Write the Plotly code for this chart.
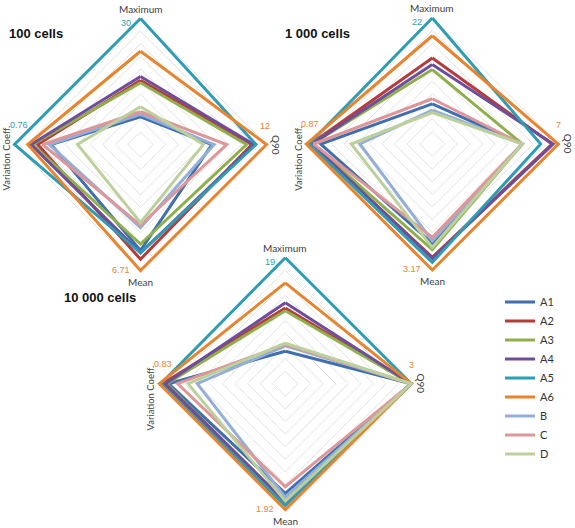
import plotly.graph_objects as go

# ---------------- data ----------------
axes_names = ["Maximum", "Q90", "Mean", "Variation Coeff."]
series = ["A1", "A2", "A3", "A4", "A5", "A6", "B", "C", "D"]
colors = ["#3F6FAE", "#B63C3C", "#8DB04A", "#6E4E9B", "#2E9DB3",
          "#E8832E", "#93AED8", "#DE9699", "#BBD09A"]

titles = ["100 cells", "1 000 cells", "10 000 cells"]

# values per series: [Maximum, Q90, Mean, Variation Coeff.]
cells_100 = {
    "A1": [6.6, 6.8, 5.64, 0.54],
    "A2": [15.3, 10.6, 6.11, 0.62],
    "A3": [14.7, 10.1, 5.30, 0.65],
    "A4": [16.2, 10.8, 5.77, 0.66],
    "A5": [30, 11.0, 5.77, 0.76],
    "A6": [22.2, 12, 6.71, 0.68],
    "B":  [7.2, 7.0, 4.43, 0.55],
    "C":  [7.8, 8.2, 4.29, 0.59],
    "D":  [9.0, 6.0, 4.16, 0.38],
}
cells_1000 = {
    "A1": [7.0, 5.0, 2.50, 0.77],
    "A2": [15.0, 6.65, 2.85, 0.84],
    "A3": [13.0, 5.0, 2.66, 0.83],
    "A4": [13.9, 6.72, 2.88, 0.83],
    "A5": [22, 6.02, 2.98, 0.85],
    "A6": [18.9, 7, 3.17, 0.87],
    "B":  [5.9, 5.0, 2.44, 0.50],
    "C":  [7.9, 5.0, 2.35, 0.82],
    "D":  [5.5, 5.0, 2.60, 0.56],
}
cells_10000 = {
    "A1": [4.9, 3, 1.67, 0.77],
    "A2": [11.4, 3, 1.82, 0.81],
    "A3": [11.0, 3, 1.82, 0.78],
    "A4": [12.2, 3, 1.80, 0.79],
    "A5": [19, 3, 1.86, 0.82],
    "A6": [15.2, 3, 1.92, 0.83],
    "B":  [5.7, 3, 1.73, 0.58],
    "C":  [5.9, 3, 1.57, 0.71],
    "D":  [6.1, 3, 1.79, 0.64],
}
datasets = [cells_100, cells_1000, cells_10000]
max_labels = [["30", "12", "6.71", "0.76"],
              ["22", "7", "3.17", "0.87"],
              ["19", "3", "1.92", "0.83"]]

# ---------------- layout geometry ----------------
W, H = 575, 528
centers = [(140.5, 144.5), (432.3, 144.0), (285.3, 383.7)]  # px
R = 126
PAD = 1.04  # radial range slightly beyond 1 so edge lines are not clipped
title_pos = [(7, 33), (283, 33), (62, 297)]

fig = go.Figure()
annotations = []

for k, (data, (cx, cy)) in enumerate(zip(datasets, centers)):
    maxes = [max(data[s][i] for s in series) for i in range(4)]
    sub = "polar" if k == 0 else f"polar{k+1}"
    for s, c in zip(series, colors):
        vals = [data[s][i] / maxes[i] for i in range(4)]
        fig.add_trace(go.Scatterpolar(
            r=vals + [vals[0]], theta=axes_names + [axes_names[0]],
            mode="lines", line=dict(color=c, width=3),
            name=s, legendgroup=s, showlegend=(k == 0),
            subplot=sub))
    Ro = R * PAD
    dom_x = [(cx - Ro) / W, (cx + Ro) / W]
    dom_y = [1 - (cy + Ro) / H, 1 - (cy - Ro) / H]
    fig.update_layout({sub: dict(
        domain=dict(x=dom_x, y=dom_y),
        bgcolor="rgba(0,0,0,0)",
        gridshape="linear",
        radialaxis=dict(range=[0, PAD], tickvals=[i / 10 for i in range(1, 11)],
                        showticklabels=False, ticks="", showline=False,
                        gridcolor="#e2e2e2", gridwidth=0.8),
        angularaxis=dict(categoryorder="array", categoryarray=axes_names,
                         rotation=90, direction="clockwise",
                         showticklabels=False, ticks="", showline=False,
                         showgrid=False),
    )})

    px, py = cx / W, 1 - cy / H
    # colour of each max-value label = series holding that maximum (ties -> A6)
    max_cols = []
    for i in range(4):
        best = max(series, key=lambda s: (data[s][i], s == "A6"))
        max_cols.append(colors[series.index(best)])
    lab_font = dict(family="Lato, Liberation Sans, sans-serif", size=10, color="#404040")
    vc_font = dict(family="Lato, Liberation Sans, sans-serif", size=9.5, color="#404040")
    val_font = dict(family="Liberation Sans, Arial, sans-serif", size=9)

    def ann(text, xs, ys, font, xanchor="center", angle=0):
        annotations.append(dict(x=px, y=py, xref="paper", yref="paper",
                                text=text, showarrow=False, xshift=xs, yshift=ys,
                                xanchor=xanchor, yanchor="middle", font=font,
                                textangle=angle))

    ann("Maximum", 0, 136, lab_font)
    ann("Q90", 136, 0, lab_font, angle=90)
    ann("Mean", 0, -137, lab_font)
    ann("Variation Coeff.", -134.5, -14, vc_font, angle=-90)
    ann(max_labels[k][0], -8, 122, dict(val_font, color=max_cols[0]), xanchor="right")
    ann(max_labels[k][1], 131, 19, dict(val_font, color=max_cols[1]), xanchor="right")
    ann(max_labels[k][2], -9, -125, dict(val_font, color=max_cols[2]), xanchor="right")
    ann(max_labels[k][3], -111, 20, dict(val_font, color=max_cols[3]), xanchor="right")

    tx, ty = title_pos[k]
    annotations.append(dict(x=tx / W, y=1 - ty / H, xref="paper", yref="paper",
                            text=f"<b>{titles[k]}</b>", showarrow=False,
                            xanchor="left", yanchor="middle",
                            font=dict(family="Liberation Sans, Arial, sans-serif",
                                      size=13, color="#111111")))

fig.update_layout(
    width=W, height=H,
    margin=dict(l=0, r=0, t=0, b=0),
    paper_bgcolor="white", plot_bgcolor="white",
    annotations=annotations,
    legend=dict(x=500 / W, y=1 - 378 / H, xanchor="left", yanchor="middle",
                font=dict(family="Lato, Liberation Sans, sans-serif", size=11, color="#333333"),
                itemwidth=30, bgcolor="rgba(0,0,0,0)", tracegroupgap=0),
)

fig.write_html("out.html")
